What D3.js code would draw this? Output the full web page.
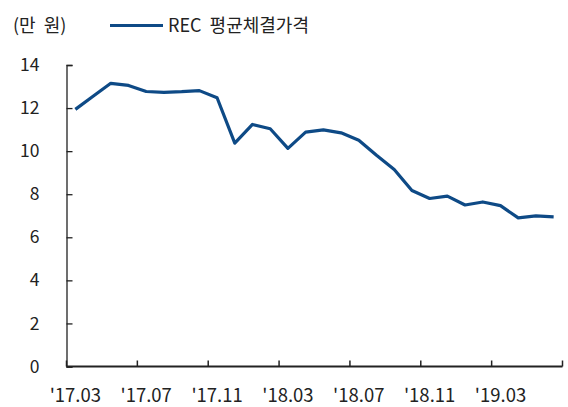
<!DOCTYPE html>
<html>
<head>
<meta charset="utf-8">
<script src="https://cdn.jsdelivr.net/npm/d3@7"></script>
<style>
  body { margin: 0; background: #fff; }
  text { font-family: "Noto Sans CJK KR", "Noto Sans", sans-serif; fill: #222; }
</style>
</head>
<body>
<div class="chart"></div>
<script>
var months = ["17.03","17.04","17.05","17.06","17.07","17.08","17.09","17.10","17.11","17.12",
  "18.01","18.02","18.03","18.04","18.05","18.06","18.07","18.08","18.09","18.10",
  "18.11","18.12","19.01","19.02","19.03","19.04","19.05","19.06"];
var prices = [11.94, 12.55, 13.15, 13.05, 12.77, 12.73, 12.76, 12.81, 12.48, 10.37,
  11.24, 11.04, 10.13, 10.88, 10.99, 10.85, 10.51, 9.81, 9.15, 8.17,
  7.80, 7.91, 7.50, 7.64, 7.47, 6.90, 6.99, 6.95];
var yTicks = [0, 2, 4, 6, 8, 10, 12, 14];
var seriesName = "REC 평균체결가격";
var unitLabel = "(만  원)";

function makeChart(){
  var width = 568,
      height = 407;
  var left = 66.5, right = 562.5, top = 65, bottom = 366.5;

  var svg = d3.select(".chart").append("svg")
      .attr("width", width)
      .attr("height", height);

  var x = d3.scaleBand()
      .domain(months)
      .range([left, right]);

  var y = d3.scaleLinear()
      .domain([0, 14])
      .range([bottom, top]);

  // y axis
  var yAxis = svg.append("g")
      .attr("transform", "translate(" + left + ",0)")
      .call(d3.axisLeft(y).tickValues(yTicks).tickSize(-6).tickPadding(27));
  yAxis.select(".domain").attr("stroke", "#222").attr("stroke-width", 1.3);
  yAxis.selectAll(".tick line").attr("stroke", "#222").attr("stroke-width", 1.3);
  yAxis.selectAll("text").style("font-size", "17.5px").attr("fill", "#222");

  // x axis, ticks on band edges every 4 months
  var xg = svg.append("g");
  xg.append("line")
      .attr("x1", left).attr("x2", right)
      .attr("y1", bottom).attr("y2", bottom)
      .attr("stroke", "#222").attr("stroke-width", 2);
  var edges = d3.range(0, months.length + 1, 4);
  xg.selectAll(".xt").data(edges).enter().append("line")
      .attr("class", "xt")
      .attr("x1", function(i){ return left + i * x.step(); })
      .attr("x2", function(i){ return left + i * x.step(); })
      .attr("y1", bottom).attr("y2", bottom - 6)
      .attr("stroke", "#222").attr("stroke-width", 1.5);
  xg.selectAll(".xl").data(months.filter(function(d, i){ return i % 4 === 0; })).enter().append("text")
      .attr("class", "xl")
      .attr("x", function(d){ return x(d) + x.bandwidth() / 2; })
      .attr("y", 402)
      .attr("text-anchor", "middle")
      .style("font-size", "18.5px")
      .text(function(d){ return "'" + d; });

  // line
  var line = d3.line()
      .x(function(d, i){ return x(months[i]) + x.bandwidth() / 2; })
      .y(function(d){ return y(d); });

  svg.append("path")
      .datum(prices)
      .attr("d", line)
      .attr("fill", "none")
      .attr("stroke", "#0e4a86")
      .attr("stroke-width", 3.2)
      .attr("stroke-linejoin", "round");

  // unit + legend
  svg.append("text")
      .attr("x", 13).attr("y", 32)
      .attr("xml:space", "preserve")
      .style("white-space", "pre")
      .style("font-size", "18px")
      .text(unitLabel);
  svg.append("line")
      .attr("x1", 110).attr("x2", 163)
      .attr("y1", 25.5).attr("y2", 25.5)
      .attr("stroke", "#0e4a86").attr("stroke-width", 3.2);
  svg.append("text")
      .attr("x", 168).attr("y", 32)
      .attr("xml:space", "preserve")
      .style("white-space", "pre")
      .style("font-size", "18px")
      .text(seriesName.replace(" ", "  "));
}

makeChart();
</script>
</body>
</html>
